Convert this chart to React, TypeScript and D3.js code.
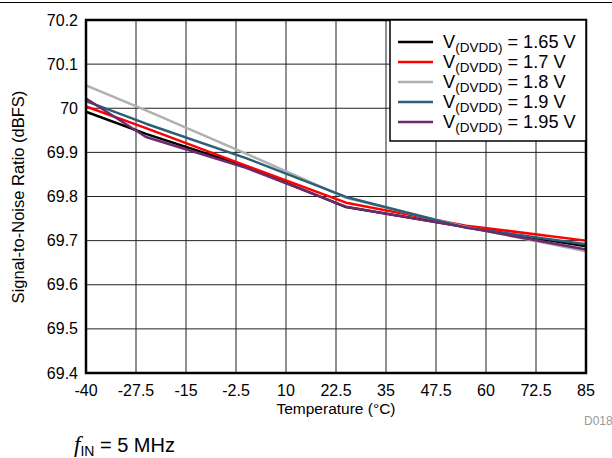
import React from "react";
import * as d3 from "d3";

const temps = [-40, -25, 0, 25, 55, 85];
const xTicks = [-40, -27.5, -15, -2.5, 10, 22.5, 35, 47.5, 60, 72.5, 85];
const yTicks = [69.4, 69.5, 69.6, 69.7, 69.8, 69.9, 70, 70.1, 70.2];

const v165 = [69.992, 69.942, 69.868, 69.776, 69.731, 69.687];
const v17 = [70.004, 69.955, 69.87, 69.786, 69.734, 69.7];
const v18 = [70.052, 69.995, 69.897, 69.797, 69.731, 69.676];
const v19 = [70.016, 69.965, 69.887, 69.799, 69.729, 69.692];
const v195 = [70.022, 69.935, 69.865, 69.777, 69.73, 69.68];

const seriesNames = ["1.65 V", "1.7 V", "1.8 V", "1.9 V", "1.95 V"];
const seriesValues = [v165, v17, v18, v19, v195];
const seriesColors = ["#000000", "#ff0000", "#b0b0b0", "#2a5f78", "#6e2a6a"];

const W = 612;
const H = 458;
const L = 86, R = 586, T = 20, B = 373;

export default function App() {
  const x = d3.scaleLinear().domain([-40, 85]).range([L, R]);
  const y = d3.scaleLinear().domain([69.4, 70.2]).range([B, T]);
  const line = d3
    .line<number>()
    .x((_, i) => x(temps[i]))
    .y((d) => y(d));
  const font = "'Liberation Sans', Arial, sans-serif";
  const legX = 390, legY = 20, legW = R - 390, legH = 121;
  return (
    <svg
      width={W}
      height={H}
      style={{ position: "absolute", left: 0, top: 0, background: "#fff" }}
      fontFamily={font}
    >
      <rect x={0} y={0} width={W} height={H} fill="#fff" />
      <line x1={0} x2={W} y1={2.5} y2={2.5} stroke="#000" strokeWidth={1} />
      {xTicks.map((t) => (
        <line key={"vx" + t} x1={x(t)} x2={x(t)} y1={T} y2={B} stroke="#6a6a6a" strokeWidth={1.5} />
      ))}
      {yTicks.map((t) => (
        <line key={"hy" + t} x1={L} x2={R} y1={y(t)} y2={y(t)} stroke="#222" strokeWidth={1} />
      ))}
      {seriesValues.map((vals, i) => (
        <path key={"s" + i} d={line(vals) || ""} fill="none" stroke={seriesColors[i]} strokeWidth={2.5} strokeLinejoin="round" />
      ))}
      <rect x={L} y={T} width={R - L} height={B - T} fill="none" stroke="#000" strokeWidth={2.5} />
      <rect x={legX} y={legY} width={legW} height={legH} fill="#fff" stroke="#000" strokeWidth={1.5} />
      {seriesNames.map((n, i) => {
        const cy = 42 + i * 20;
        return (
          <g key={"lg" + i}>
            <line x1={398} x2={433} y1={cy} y2={cy} stroke={seriesColors[i]} strokeWidth={2.5} />
            <text x={443} y={cy + 6} fontSize={18.2} fill="#000">
              V<tspan fontSize={13.5} dy={4}>(DVDD)</tspan>
              <tspan dy={-4}>{" = " + n}</tspan>
            </text>
          </g>
        );
      })}
      {yTicks.map((t) => (
        <text key={"yl" + t} x={78} y={y(t) + 5.5} fontSize={16} textAnchor="end" fill="#000">
          {d3.format("")(+t.toFixed(1))}
        </text>
      ))}
      {xTicks.map((t) => (
        <text key={"xl" + t} x={x(t)} y={396} fontSize={16} textAnchor="middle" fill="#000">
          {String(t)}
        </text>
      ))}
      <text x={336} y={414} fontSize={15.5} textAnchor="middle" fill="#000">
        Temperature (°C)
      </text>
      <text
        transform={`translate(24,197) rotate(-90)`}
        fontSize={16.5}
        textAnchor="middle"
        fill="#000"
      >
        Signal-to-Noise Ratio (dBFS)
      </text>
      <text x={584} y={425} fontSize={12} fill="#999">
        D018
      </text>
      <text x={74} y={452} fontSize={20} fill="#000">
        <tspan fontStyle="italic" fontFamily="'Liberation Serif', serif" fontSize={23}>f</tspan>
        <tspan fontSize={14} dy={4}>IN</tspan>
        <tspan dy={-4}>{" = 5 MHz"}</tspan>
      </text>
    </svg>
  );
}
